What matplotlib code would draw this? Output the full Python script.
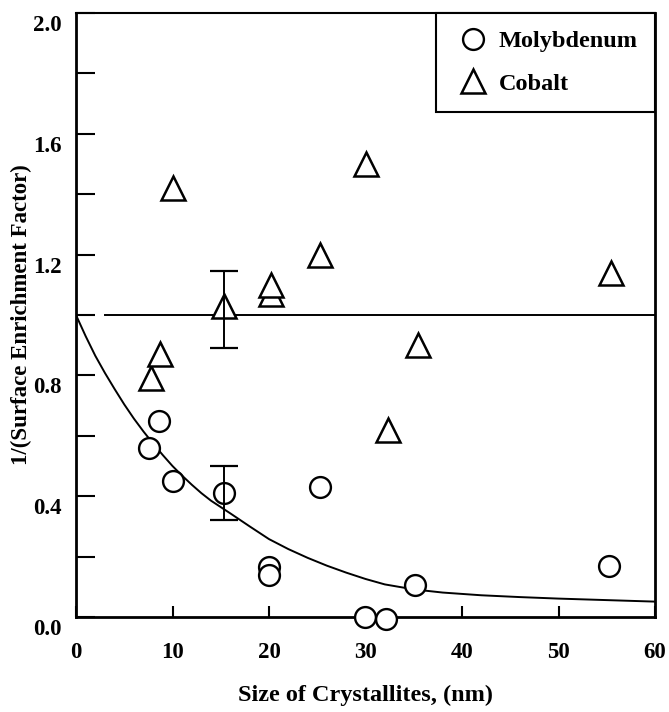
import matplotlib
matplotlib.use("Agg")
import matplotlib.pyplot as plt
from matplotlib.lines import Line2D
from matplotlib.transforms import ScaledTranslation

plt.rcParams["font.family"] = ["Liberation Serif", "DejaVu Serif"]
plt.rcParams["font.weight"] = "bold"

# Molybdenum surface data
mo_size = [7.6, 8.6, 10.1, 15.3, 20.0, 20.0, 25.3, 29.9, 32.1, 35.1, 55.2]
mo_value = [0.56, 0.65, 0.45, 0.41, 0.165, 0.14, 0.43, 0.0, -0.005, 0.105, 0.17]

# Cobalt surface data
co_size = [7.8, 8.7, 10.0, 15.3, 20.2, 20.2, 25.3, 30.1, 32.3, 35.4, 55.4]
co_value = [0.79, 0.87, 1.42, 1.03, 1.07, 1.10, 1.20, 1.50, 0.62, 0.90, 1.14]

# error bars on the 15 nm points (lower, upper)
mo_err_x = 15.3
mo_err_y = 0.41
mo_err = (0.088, 0.09)
co_err_x = 15.3
co_err_y = 1.03
co_err = (0.14, 0.115)

# fitted molybdenum trend
fit_size = [0, 1, 2, 3, 4, 5, 6, 7, 8, 9, 10, 11, 12, 13, 14, 16, 18, 20,
            22, 24, 26, 28, 30, 32, 34, 36, 38, 42, 46, 50, 55, 60]
fit_value = [1.0, 0.930, 0.865, 0.808, 0.755, 0.704, 0.657, 0.614, 0.574,
             0.536, 0.500, 0.468, 0.438, 0.410, 0.385, 0.343, 0.300, 0.258,
             0.225, 0.196, 0.170, 0.147, 0.126, 0.108, 0.097, 0.088, 0.081,
             0.072, 0.066, 0.061, 0.056, 0.051]

# reference level
ref_level = 1.0
ref_start = 3.0
ref_end = 60.0

x_ticks = [0, 10, 20, 30, 40, 50, 60]
y_major = [0.0, 0.4, 0.8, 1.2, 1.6, 2.0]
y_minor = [0.2, 0.6, 1.0, 1.4, 1.8]

fig = plt.figure(figsize=(6.69, 7.12), dpi=100)
ax = fig.add_axes([0.1136, 0.1334, 0.8655, 0.8483])

ax.plot(fit_size, fit_value, color="black", lw=1.4, zorder=2)
ax.plot([ref_start, ref_end], [ref_level, ref_level], color="black", lw=1.4, zorder=2)

ax.plot(mo_size, mo_value, linestyle="none", marker="o", ms=15, mfc="white",
        mec="black", mew=1.7, zorder=3, clip_on=False)
ax.plot(co_size, co_value, linestyle="none", marker="^", ms=17, mfc="white",
        mec="black", mew=1.8, zorder=3, clip_on=False)

ax.errorbar([mo_err_x], [mo_err_y], yerr=[[mo_err[0]], [mo_err[1]]], fmt="none",
            ecolor="black", elinewidth=1.4, capsize=10, capthick=1.6, zorder=4)
ax.errorbar([co_err_x], [co_err_y], yerr=[[co_err[0]], [co_err[1]]], fmt="none",
            ecolor="black", elinewidth=1.4, capsize=10, capthick=1.6, zorder=4)

ax.set_xlim(0, 60)
ax.set_ylim(0, 2.0)
ax.set_xticks(x_ticks)
ax.set_xticklabels([str(t) for t in x_ticks])
ax.set_yticks(y_major)
ax.set_yticklabels([f"{v:.1f}" for v in y_major])
ax.set_yticks(y_minor, minor=True)

ax.tick_params(axis="x", direction="in", length=8, width=1.5, pad=18, labelsize=16.5)
ax.tick_params(axis="y", which="both", direction="in", length=14, width=1.5,
               pad=10, labelsize=16.5)
ax.tick_params(axis="y", which="minor", labelleft=False)

for lab in ax.get_yticklabels():
    lab.set_transform(lab.get_transform() + ScaledTranslation(0, -0.10, fig.dpi_scale_trans))

for side in ["left", "bottom", "right"]:
    ax.spines[side].set_linewidth(2.0)
ax.spines["top"].set_linewidth(1.5)

ax.set_xlabel("Size of Crystallites, (nm)", fontsize=17.5, fontweight="bold")
ax.set_ylabel("1/(Surface Enrichment Factor)", fontsize=16.5, fontweight="bold")
ax.xaxis.set_label_coords(0.5, -0.112)
ax.yaxis.set_label_coords(-0.076, 0.5)

handles = [
    Line2D([], [], linestyle="none", marker="o", ms=15, mfc="white", mec="black", mew=1.7),
    Line2D([], [], linestyle="none", marker="^", ms=17, mfc="white", mec="black", mew=1.8),
]
leg = ax.legend(handles, ["Molybdenum", "Cobalt"], loc="upper right",
                bbox_to_anchor=(1, 1), borderaxespad=0, fancybox=False,
                framealpha=1, edgecolor="black", fontsize=17.5, borderpad=0.7,
                handlelength=1.7, handletextpad=0.2, labelspacing=0.85,
                numpoints=1)
leg.get_frame().set_linewidth(1.5)

fig.savefig("out.png", dpi=100)
